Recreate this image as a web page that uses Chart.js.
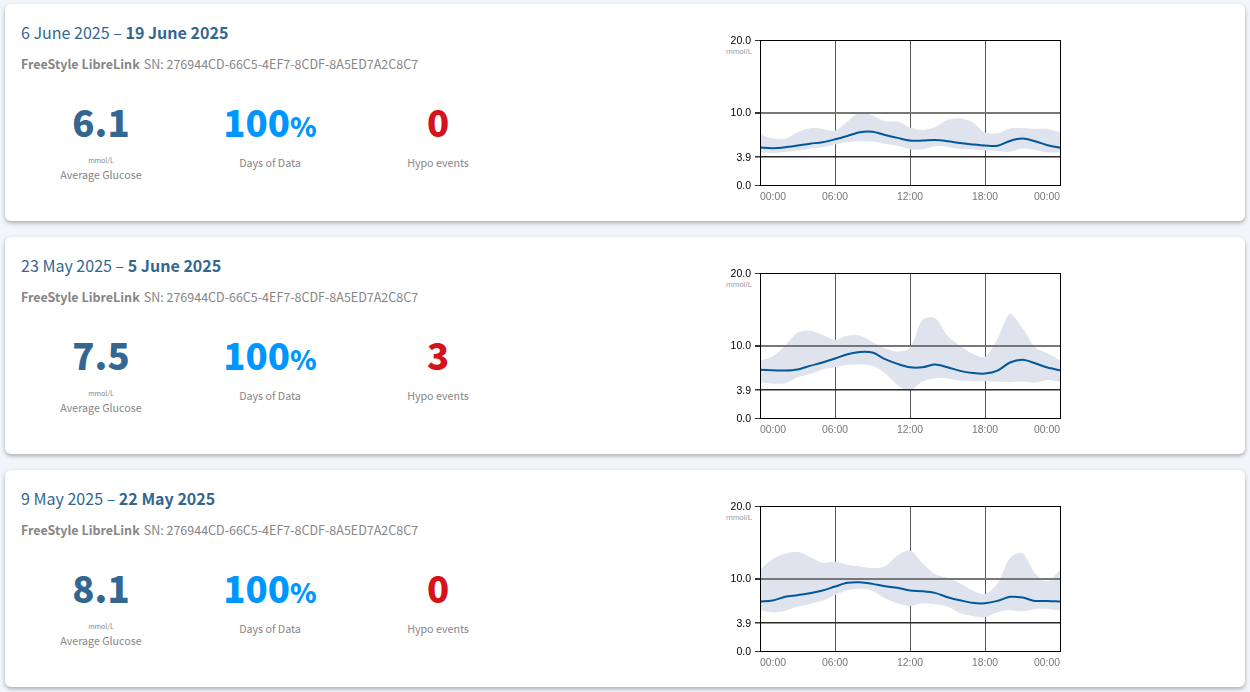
<!DOCTYPE html>
<html>
<head>
<meta charset="utf-8">
<title>Glucose reports</title>
<script src="https://cdn.jsdelivr.net/npm/chart.js@4/dist/chart.umd.min.js"></script>
<style>
  html, body { margin: 0; padding: 0; width: 1250px; height: 692px; overflow: hidden; background: #f2f5f9; }
  body { font-family: "Noto Sans CJK JP", "Noto Sans", sans-serif; }
  .card { position: absolute; left: 5px; width: 1240px; height: 217px; background: #fff; border-radius: 6px; box-shadow: 0 2px 4px rgba(0,0,0,.3); }
  .card div { position: absolute; white-space: nowrap; }
  .title { left: 16px; top: 16px; font-size: 16.05px; line-height: 24px; color: #336791; }
  .sn { left: 16px; top: 50px; font-size: 12.5px; line-height: 20px; color: #868686; }
  .sn span { margin-left: 4px; }
  .big { top: 93px; width: 200px; text-align: center; font-size: 36.5px; line-height: 50px; font-weight: 900; }
  .big span { font-size: 27px; }
  .small { width: 200px; text-align: center; font-size: 10.7px; line-height: 16px; color: #868686; }
  .unit { width: 200px; text-align: center; font-size: 7px; line-height: 8px; color: #868686; }
  .chart-unit { left: 721px; top: 43px; font: 8px "Liberation Sans", Arial, sans-serif; color: #9a9fa8; }
  canvas { position: absolute; left: 705px; top: 21px; }
</style>
</head>
<body>
<script>
const startDates = ["6 June 2025", "23 May 2025", "9 May 2025"];
const endDates = ["19 June 2025", "5 June 2025", "22 May 2025"];
const averages = ["6.1", "7.5", "8.1"];
const hypoEvents = ["0", "3", "0"];
const cardTops = [4, 237, 470];

const hours = [0,1,2,3,4,5,6,7,8,9,10,11,12,13,14,15,16,17,18,19,20,21,22,23,24];
const yTicks = [0, 3.9, 10, 20];

const median1 = [5.16,5.07,5.2,5.44,5.7,5.9,6.3,6.77,7.28,7.33,6.9,6.5,6.13,6.13,6.2,6.04,5.8,5.6,5.44,5.4,6.08,6.4,6.04,5.48,5.16];
const upper1 = [7.05,6.45,6.4,7.28,7.83,7.74,7.5,8.75,10.05,9.6,8.8,8.75,7.93,7.6,7.97,9.0,9.2,8.66,7.23,7.14,7.8,7.83,7.74,7.74,7.28];
const lower1 = [4.47,4.42,4.56,4.75,5.0,5.2,5.6,5.94,6.04,6.0,5.7,5.4,4.93,4.93,5.35,5.25,5.0,4.88,4.75,4.7,4.6,5.02,4.84,4.5,4.47];

const median2 = [6.64,6.59,6.54,6.68,7.19,7.65,8.2,8.8,9.12,9.03,8.11,7.47,7.0,7.0,7.37,7.0,6.5,6.22,6.13,6.54,7.65,8.02,7.56,6.96,6.59];
const upper2 = [7.93,8.48,9.95,11.8,12.03,11.47,10.78,11.38,11.38,10.46,9.63,9.17,9.68,13.55,13.78,11.34,9.95,8.85,8.43,10.88,14.38,12.4,9.77,8.94,7.93];
const lower2 = [4.88,4.75,4.79,5.62,6.04,6.68,7.0,7.33,7.37,7.19,6.18,4.56,3.78,5.02,5.48,5.44,5.16,5.07,5.12,5.02,4.93,5.02,4.88,5.25,5.02];

const median3 = [6.82,6.96,7.47,7.7,7.97,8.34,8.89,9.4,9.49,9.26,8.94,8.71,8.34,8.25,8.02,7.42,7.0,6.64,6.59,6.91,7.47,7.37,6.91,6.91,6.82];
const upper3 = [11.2,12.67,13.41,13.69,12.95,12.17,12.3,11.89,11.66,11.43,11.7,13.18,13.87,12.12,10.6,10.09,9.35,8.34,7.83,9.35,12.81,13.5,10.74,9.63,11.15];
const lower3 = [5.58,5.35,5.53,6.13,6.5,6.96,7.74,8.39,8.57,8.29,7.28,6.59,6.22,6.59,6.5,6.13,5.25,4.84,4.65,5.35,5.67,5.48,5.81,5.81,5.58];

const medians = [median1, median2, median3];
const uppers = [upper1, upper2, upper3];
const lowers = [lower1, lower2, lower3];

const toPoints = (values) => values.map((v, i) => ({ x: hours[i], y: v }));

const gridColor = (value) => {
    if (value === 10) return "#777777";
    if (value === 3.9) return "#2a2a2a";
    return "#000000";
};

const gridWidth = (value) => {
    if (value === 10) return 2;
    if (value === 3.9) return 1.5;
    return 1;
};

function addCard(i) {
    const card = document.createElement("section");
    card.className = "card";
    card.style.top = cardTops[i] + "px";
    card.innerHTML = `
      <div class="title">${startDates[i]} – <b>${endDates[i]}</b></div>
      <div class="sn"><b>FreeStyle LibreLink</b><span>SN: 276944CD-66C5-4EF7-8CDF-8A5ED7A2C8C7</span></div>
      <div class="big" style="left:-4px;color:#336791">${averages[i]}</div>
      <div class="unit" style="left:-4px;top:152px">mmol/L</div>
      <div class="small" style="left:-4px;top:163px">Average Glucose</div>
      <div class="big" style="left:165px;color:#0096ff">100<span>%</span></div>
      <div class="small" style="left:165px;top:151px">Days of Data</div>
      <div class="big" style="left:333px;color:#d4141c">${hypoEvents[i]}</div>
      <div class="small" style="left:333px;top:151px">Hypo events</div>
      <div class="chart-unit">mmol/L</div>
      <canvas width="360" height="185" style="width:360px;height:185px"></canvas>`;
    document.body.appendChild(card);

    new Chart(card.querySelector("canvas"), {
        type: "line",
        data: {
            datasets: [
                { data: toPoints(medians[i]), borderColor: "#00589b", borderWidth: 2, pointRadius: 0, tension: 0.3, fill: false, order: 0 },
                { data: toPoints(uppers[i]), borderWidth: 0, pointRadius: 0, tension: 0.3, backgroundColor: "#dfe3ed", fill: "+1", order: 1 },
                { data: toPoints(lowers[i]), borderWidth: 0, pointRadius: 0, tension: 0.3, fill: false, order: 1 }
            ]
        },
        options: {
            responsive: false,
            animation: false,
            events: [],
            layout: { padding: { top: 15, right: 10, bottom: 0, left: 0 } },
            plugins: { legend: { display: false }, tooltip: { enabled: false } },
            scales: {
                x: {
                    type: "linear",
                    min: 0,
                    max: 24,
                    afterFit: (s) => { s.height = 25; },
                    ticks: {
                        stepSize: 6,
                        align: "inner",
                        maxRotation: 0,
                        padding: 6,
                        color: "#777777",
                        font: { family: "Liberation Sans", size: 10.4 },
                        callback: (v) => String(v % 24).padStart(2, "0") + ":00"
                    },
                    grid: { color: "#555555", lineWidth: 1, drawTicks: false },
                    border: { color: "#000000" }
                },
                y: {
                    min: 0,
                    max: 20,
                    afterBuildTicks: (s) => { s.ticks = yTicks.map((v) => ({ value: v })); },
                    afterFit: (s) => { s.width = 50; },
                    ticks: {
                        padding: 4,
                        labelOffset: 1,
                        color: "#000000",
                        font: { family: "Liberation Sans", size: 10.5 },
                        callback: (v) => v.toFixed(1)
                    },
                    grid: {
                        z: 1,
                        tickLength: 5,
                        tickColor: "#333333",
                        color: (ctx) => gridColor(ctx.tick && ctx.tick.value),
                        lineWidth: (ctx) => gridWidth(ctx.tick && ctx.tick.value)
                    },
                    border: { display: false }
                }
            }
        },
        plugins: [{
            id: "frameSides",
            afterDraw(chart) {
                const { ctx, chartArea } = chart;
                ctx.save();
                ctx.strokeStyle = "#000000";
                ctx.lineWidth = 1;
                ctx.beginPath();
                [chartArea.left, chartArea.right].forEach((x) => {
                    ctx.moveTo(Math.round(x) + 0.5, chartArea.top);
                    ctx.lineTo(Math.round(x) + 0.5, chartArea.bottom);
                });
                ctx.stroke();
                ctx.restore();
            }
        }]
    });
}

cardTops.forEach((top, i) => addCard(i));
</script>
</body>
</html>
